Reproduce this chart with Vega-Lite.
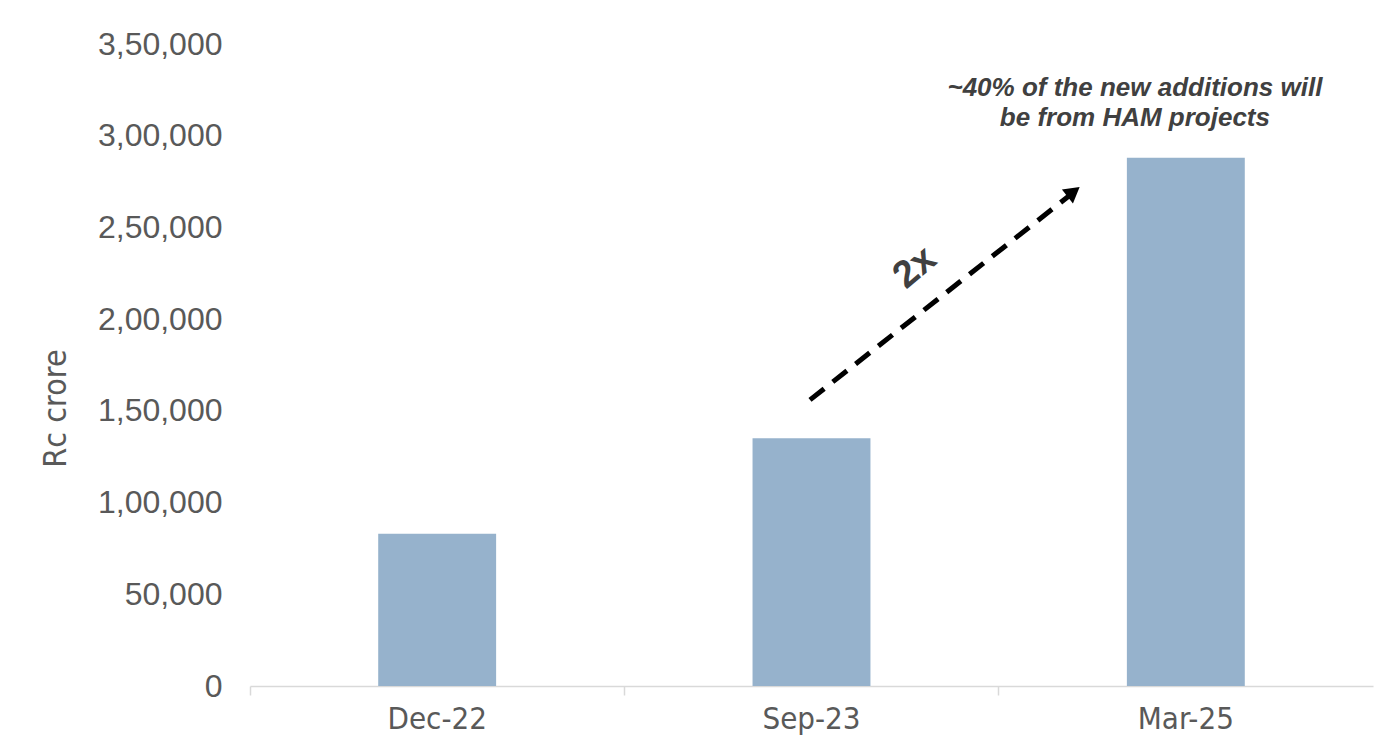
{
  "$schema": "https://vega.github.io/schema/vega-lite/v6.json",
  "width": 1123,
  "height": 642,
  "autosize": {"type": "none"},
  "padding": {"left": 250, "top": 44, "right": 17, "bottom": 63},
  "background": "white",
  "config": {"view": {"stroke": null}},
  "datasets": {
    "bars": [
      {"period": "Dec-22", "value": 83000},
      {"period": "Sep-23", "value": 135000},
      {"period": "Mar-25", "value": 288000}
    ],
    "arrow": [
      {"xc": 1.496, "v": 156000, "o": 0},
      {"xc": 2.191, "v": 267700, "o": 1}
    ],
    "head": [{"xc": 2.2, "v": 269500}],
    "labels": [
      {"xc": 1.777, "v": 228000, "t": "2x"}
    ],
    "notes": [
      {"xc": 2.364, "v": 326000, "t": "~40% of the new additions will"},
      {"xc": 2.364, "v": 309700, "t": "be from HAM projects"}
    ]
  },
  "resolve": {"scale": {"x": "independent"}, "axis": {"x": "independent"}},
  "layer": [
    {
      "data": {"name": "bars"},
      "mark": {"type": "bar", "color": "#96b2cc", "width": {"band": 0.315}},
      "encoding": {
        "x": {
          "field": "period", "type": "nominal", "sort": null,
          "scale": {"paddingInner": 0, "paddingOuter": 0},
          "axis": {
            "title": null, "labelAngle": 0, "bandPosition": 0,
            "domainColor": "#d9d9d9", "domainWidth": 1.5,
            "tickColor": "#d9d9d9", "tickWidth": 1.5, "tickSize": 9,
            "labelFont": "Liberation Sans Narrow, DejaVu Sans Condensed, Roboto Condensed, Liberation Sans", "labelFontSize": 31,
            "labelColor": "#595959", "labelPadding": 9, "labelBaseline": "top",
            "labelOffset": 0
          }
        },
        "y": {
          "field": "value", "type": "quantitative",
          "scale": {"domain": [0, 350000]},
          "axis": {
            "title": "Rc crore", "values": [0, 50000, 100000, 150000, 200000, 250000, 300000, 350000],
            "labelExpr": "datum.value == 0 ? '0' : (datum.value < 100000 ? format(datum.value, ',') : floor(datum.value/100000) + ',' + (datum.value % 100000 == 0 ? '00,000' : format(datum.value % 100000, ',')))",
            "grid": false, "domain": false, "ticks": false,
            "labelFont": "Liberation Sans", "labelFontSize": 32, "labelColor": "#595959",
            "labelPadding": 28,
            "titleFont": "Liberation Sans Narrow, DejaVu Sans Condensed, Roboto Condensed, Liberation Sans", "titleFontSize": 32,
            "titleFontWeight": "normal", "titleColor": "#595959",
            "titleX": -195, "titleY": 364, "titleAngle": -90, "titleAlign": "center", "titleBaseline": "middle"
          }
        }
      }
    },
    {
      "data": {"name": "arrow"},
      "mark": {"type": "line", "color": "black", "strokeWidth": 5, "strokeDash": [18, 11], "strokeCap": "butt"},
      "encoding": {
        "x": {"field": "xc", "type": "quantitative", "scale": {"domain": [0, 3]}, "axis": null},
        "y": {"field": "v", "type": "quantitative"},
        "order": {"field": "o"}
      }
    },
    {
      "data": {"name": "head"},
      "mark": {"type": "point", "shape": "triangle-up", "filled": true, "color": "black", "size": 320, "angle": 52, "opacity": 1},
      "encoding": {
        "x": {"field": "xc", "type": "quantitative", "scale": {"domain": [0, 3]}, "axis": null},
        "y": {"field": "v", "type": "quantitative"}
      }
    },
    {
      "data": {"name": "labels"},
      "mark": {"type": "text", "font": "Liberation Sans", "fontSize": 38, "fontWeight": "bold", "color": "#404040", "angle": 320, "align": "center", "baseline": "middle"},
      "encoding": {
        "x": {"field": "xc", "type": "quantitative", "scale": {"domain": [0, 3]}, "axis": null},
        "y": {"field": "v", "type": "quantitative"},
        "text": {"field": "t"}
      }
    },
    {
      "data": {"name": "notes"},
      "mark": {"type": "text", "font": "Liberation Sans", "fontSize": 26, "fontWeight": "bold", "fontStyle": "italic", "color": "#404040", "align": "center", "baseline": "middle"},
      "encoding": {
        "x": {"field": "xc", "type": "quantitative", "scale": {"domain": [0, 3]}, "axis": null},
        "y": {"field": "v", "type": "quantitative"},
        "text": {"field": "t"}
      }
    }
  ]
}
